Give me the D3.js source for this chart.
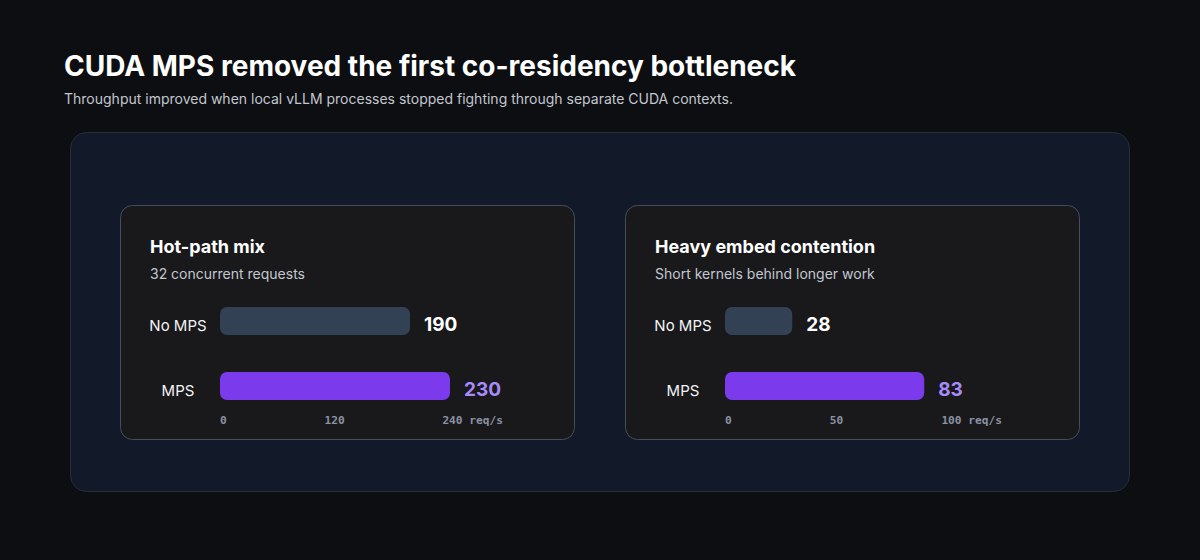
<!DOCTYPE html>
<html>
<head>
<meta charset="utf-8">
<script src="https://cdn.jsdelivr.net/npm/d3@7"></script>
<style>
  html, body { margin: 0; padding: 0; background: #0d0e11; }
  svg { display: block; font-family: Inter, "Noto Sans", sans-serif; }
</style>
</head>
<body>
<div id="chart"></div>
<script>
// data
const panels = ['Hot-path mix', 'Heavy embed contention'];
const panelNotes = ['32 concurrent requests', 'Short kernels behind longer work'];
const seriesNames = ['No MPS', 'MPS'];
const noMps = [190, 28];
const mps = [230, 83];
const axisMax = [240, 100];
const tickLabels = [['0', '120', '240 req/s'], ['0', '50', '100 req/s']];

const W = 1200, H = 560;
const svg = d3.select('#chart').append('svg').attr('width', W).attr('height', H);
svg.append('rect').attr('width', W).attr('height', H).attr('fill', '#0d0e11');

svg.append('text').text('CUDA MPS removed the first co-residency bottleneck')
  .attr('x', 64).attr('y', 76).attr('fill', '#ffffff')
  .attr('font-size', 28).attr('font-weight', 700);
svg.append('text').text('Throughput improved when local vLLM processes stopped fighting through separate CUDA contexts.')
  .attr('x', 64).attr('y', 104).attr('fill', '#c3c7cf').attr('font-size', 14);

// outer panel
svg.append('rect').attr('x', 70.5).attr('y', 132.5).attr('width', 1059).attr('height', 359)
  .attr('rx', 16).attr('fill', '#121a2a').attr('stroke', '#262d3b');

const cardX = [120.5, 625.5];
const tickSpan = [283, 277];
const cardY = 205.5, cardW = 454, cardH = 234;

panels.forEach((name, i) => {
  const g = svg.append('g').attr('transform', `translate(${cardX[i]},${cardY})`);
  g.append('rect').attr('width', cardW).attr('height', cardH).attr('rx', 12)
    .attr('fill', '#19191c').attr('stroke', '#464c58');

  g.append('text').text(name).attr('x', 29.5).attr('y', 47.5)
    .attr('fill', '#ffffff').attr('font-size', 18).attr('font-weight', 700);
  g.append('text').text(panelNotes[i]).attr('x', 29.5).attr('y', 73.5)
    .attr('fill', '#c3c7cf').attr('font-size', 14);

  const barX = 99.5;
  const x = d3.scaleLinear().domain([0, axisMax[i]]).range([barX, barX + 240]);
  const vals = [noMps[i], mps[i]];
  const bh = 28;
  const rowY = [101.5, 166.5];

  seriesNames.forEach((s, j) => {
    const cy = rowY[j] + bh / 2;
    g.append('text').text(s).attr('x', 29.5 + 28).attr('y', cy + 9.5)
      .attr('text-anchor', 'middle').attr('fill', '#f3f4f6').attr('font-size', 15);
    g.append('rect').attr('x', x(0)).attr('y', rowY[j])
      .attr('width', x(vals[j]) - x(0)).attr('height', bh).attr('rx', 7)
      .attr('fill', j === 0 ? '#334155' : '#7c3aed');
    g.append('text').text(vals[j]).attr('x', x(vals[j]) + 14).attr('y', cy + 9.5)
      .attr('fill', j === 0 ? '#ffffff' : '#a78bfa')
      .attr('font-size', 19).attr('font-weight', 700);
  });

  // tick row, spread across the axis like space-between
  const ticks = g.append('g').selectAll('text').data(tickLabels[i]).join('text')
    .text(d => d).attr('y', 218.5)
    .attr('font-family', '"DejaVu Sans Mono", monospace').attr('font-size', 11.2)
    .attr('font-weight', 700).attr('fill', '#8a92a3');
  const widths = [];
  ticks.each(function () { widths.push(this.getComputedTextLength()); });
  const span = [x(0), x(0) + tickSpan[i]];
  const gap = (span[1] - span[0] - d3.sum(widths)) / (widths.length - 1);
  let cur = span[0];
  ticks.attr('x', (d, k) => { const v = cur; cur += widths[k] + gap; return v; });
});
</script>
</body>
</html>
